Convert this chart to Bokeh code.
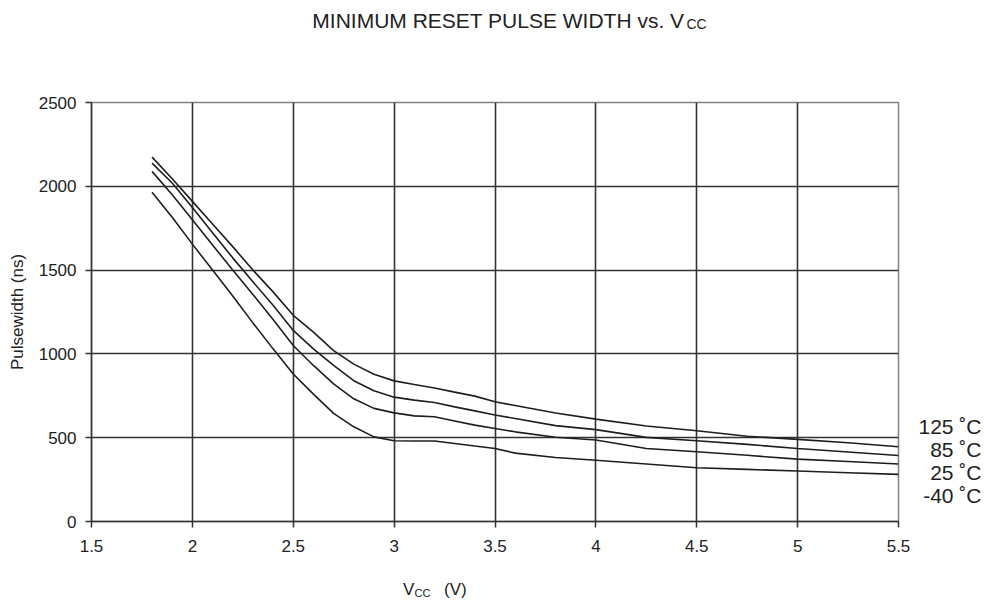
import math
from bokeh.plotting import figure
from bokeh.models import Range1d, FixedTicker, Label
from bokeh.embed import file_html
from bokeh.resources import INLINE

# ---- data ----
vcc = [1.8, 1.9, 2.0, 2.1, 2.2, 2.3, 2.4, 2.5, 2.6, 2.7, 2.8, 2.9, 3.0, 3.1, 3.2,
       3.3, 3.4, 3.5, 3.6, 3.8, 4.0, 4.25, 4.5, 4.75, 5.0, 5.25, 5.5]
pw_125 = [2174, 2045, 1910, 1775, 1640, 1500, 1370, 1230, 1130, 1020, 939, 879, 839, 817, 797,
          772, 748, 714, 692, 647, 611, 570, 541, 509, 490, 470, 446]
pw_85 = [2138, 2020, 1873, 1723, 1573, 1430, 1290, 1140, 1030, 931, 840, 780, 742, 724, 710,
         684, 660, 635, 615, 572, 548, 502, 482, 460, 436, 415, 394]
pw_25 = [2089, 1950, 1800, 1650, 1500, 1355, 1205, 1050, 931, 821, 732, 675, 648, 630, 625,
         600, 575, 555, 535, 503, 486, 436, 416, 395, 372, 358, 343]
pw_m40 = [1965, 1815, 1655, 1500, 1345, 1185, 1030, 880, 760, 645, 565, 505, 482, 480, 480,
          465, 450, 436, 408, 382, 365, 343, 321, 311, 301, 291, 281]
series = [pw_125, pw_85, pw_25, pw_m40]
series_names = ["125 \u02daC", "85 \u02daC", "25 \u02daC", "-40 \u02daC"]

x_ticks = [1.5, 2, 2.5, 3, 3.5, 4, 4.5, 5, 5.5]
x_tick_labels = ["1.5", "2", "2.5", "3", "3.5", "4", "4.5", "5", "5.5"]
y_ticks = [0, 500, 1000, 1500, 2000, 2500]

title_main = "MINIMUM RESET PULSE WIDTH vs. V"
title_sub = "CC"
x_label_parts = ["V", "CC", "(V)"]
y_label = "Pulsewidth (ns)"

FONT = "Liberation Sans"
INK = "#1e1e1e"
GRID = "#333333"
TXT = "#222222"

p = figure(width=985, height=604, output_backend="svg", toolbar_location=None,
           x_range=Range1d(1.5, 5.5), y_range=Range1d(0, 2500),
           min_border_left=91, min_border_right=87, min_border_top=102, min_border_bottom=82)
p.background_fill_color = "white"
p.border_fill_color = "white"
p.outline_line_color = "#808080"
p.outline_line_width = 1.5

for ys in series:
    p.line(vcc, ys, line_color=INK, line_width=1.6)

p.xaxis.ticker = FixedTicker(ticks=x_ticks)
p.xaxis.major_label_overrides = {t: l for t, l in zip(x_ticks, x_tick_labels)}
p.yaxis.ticker = FixedTicker(ticks=y_ticks)
p.xgrid.ticker = FixedTicker(ticks=x_ticks[1:-1])
p.ygrid.ticker = FixedTicker(ticks=y_ticks[1:-1])
for g in (p.xgrid, p.ygrid):
    g.grid_line_color = GRID
    g.grid_line_width = 1.6
    g.grid_line_alpha = 1.0

for ax in (p.xaxis, p.yaxis):
    ax.axis_line_color = "#333333"
    ax.axis_line_width = 1.5
    ax.major_tick_line_color = "#333333"
    ax.major_tick_line_width = 1.5
    ax.major_tick_in = 0
    ax.major_tick_out = 6
    ax.minor_tick_line_color = None
    ax.major_label_text_font = FONT
    ax.major_label_text_font_size = "17px"
    ax.major_label_text_color = TXT
p.xaxis.major_label_standoff = 12
p.yaxis.major_label_standoff = 9

p.yaxis.axis_label = y_label
p.yaxis.axis_label_text_font = FONT
p.yaxis.axis_label_text_font_size = "17px"
p.yaxis.axis_label_text_font_style = "normal"
p.yaxis.axis_label_text_color = TXT
p.yaxis.axis_label_standoff = 9

def lab(panel, **kw):
    p.add_layout(Label(text_font=FONT, text_color=TXT, text_baseline="middle", **kw), panel)

# title (anchored to the frame's top-right corner)
lab("above", x=5.5, y=2500, x_offset=-214, y_offset=82, text=title_main,
    text_align="right", text_font_size="21px")
lab("above", x=5.5, y=2500, x_offset=-212, y_offset=79, text=title_sub,
    text_align="left", text_font_size="14px")

# x axis label (anchored to the frame's bottom-left corner)
lab("below", x=1.5, y=0, x_offset=311.5, y_offset=-68, text=x_label_parts[0],
    text_align="left", text_font_size="17px")
lab("below", x=1.5, y=0, x_offset=323, y_offset=-71, text=x_label_parts[1],
    text_align="left", text_font_size="11px")
lab("below", x=1.5, y=0, x_offset=352.5, y_offset=-68, text=x_label_parts[2],
    text_align="left", text_font_size="17px")

# temperature labels: one right-aligned block beside the line ends
lab("right", x=5.5, y=0, x_offset=83, y_offset=61, text="\n".join(series_names),
    text_align="right", text_font_size="21px", text_line_height=1.0)

open("out.html", "w").write(file_html(p, INLINE))
